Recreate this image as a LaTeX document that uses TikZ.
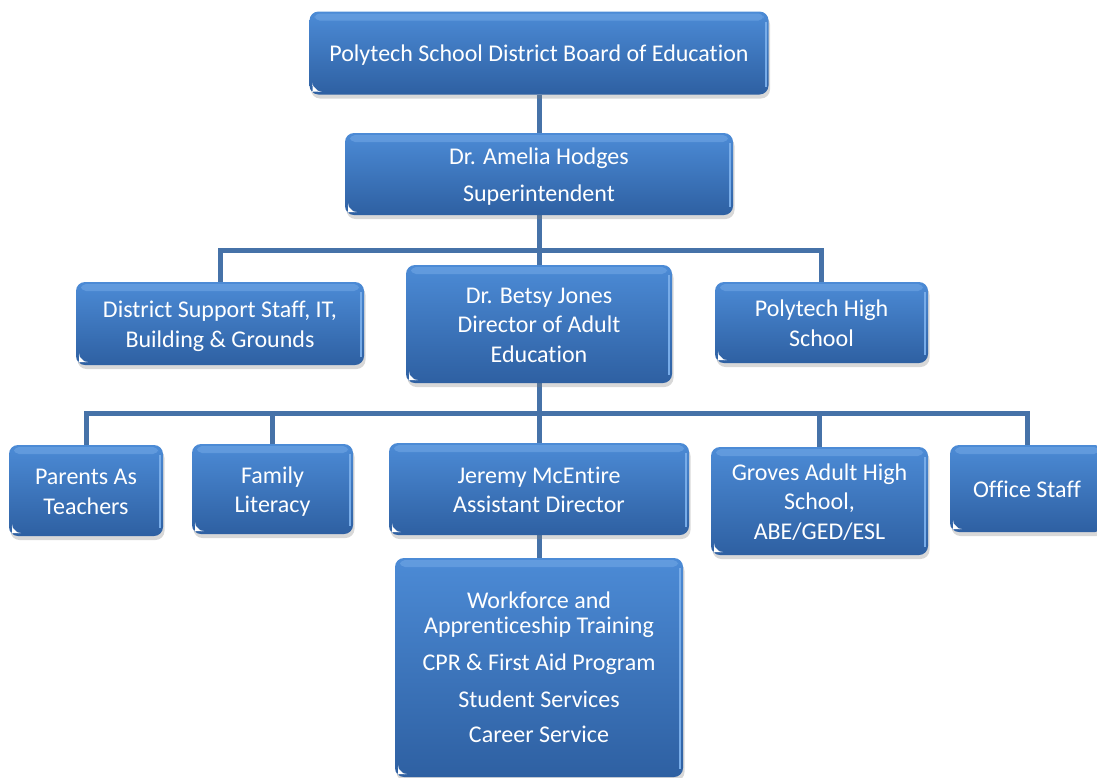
\documentclass[tikz,border=0pt]{standalone}
\usepackage{fontspec}
\setmainfont{Carlito}[Ligatures=NoCommon]
\usetikzlibrary{shadows,backgrounds}
\definecolor{boxtop}{RGB}{76,139,214}
\definecolor{boxbot}{RGB}{46,96,162}
\definecolor{hilite}{RGB}{120,172,232}
\definecolor{conncol}{RGB}{70,114,168}
\newcommand\bx[1]{\raisebox{-3pt}[\height][\depth]{\begin{tabular}{@{}c@{}}#1\end{tabular}}}
\tikzset{
 orgbox/.style={rounded corners=9pt, top color=boxtop, bottom color=boxbot,
  text=white, inner sep=0pt,
  font=\fontsize{24}{29.5}\selectfont,
  drop shadow={shadow xshift=1.5pt, shadow yshift=-4pt, opacity=0.3},
  path picture={
   \fill[hilite, opacity=0.5, rounded corners=5pt]
     ([xshift=5pt,yshift=-2pt]path picture bounding box.north west) rectangle
     ([xshift=-5pt,yshift=-9pt]path picture bounding box.north east);
   \draw[hilite, line width=2pt]
     ([xshift=-3pt,yshift=-10pt]path picture bounding box.north east) --
     ([xshift=-3pt,yshift=8pt]path picture bounding box.south east);
   \fill[white] ([xshift=3pt,yshift=3pt]path picture bounding box.south west)
     -- ++(6pt,0pt) -- ++(-6pt,6pt) -- cycle;
  }},
 conn/.style={draw=conncol, line width=5pt}
}
\begin{document}
\begin{tikzpicture}[x=1pt,y=-1pt]
\useasboundingbox (0,0) rectangle (1097,777);
\node[orgbox, minimum width=459pt, minimum height=83pt] (board) at (539,53) {\bx{Polytech School District Board of Education}};
\node[orgbox, minimum width=388pt, minimum height=82pt] (sup) at (539,174) {\bx{Dr. Amelia Hodges\\[7pt]Superintendent}};
\node[orgbox, minimum width=288pt, minimum height=83pt] (dist) at (220,323.5) {\bx{District Support Staff, IT,\\Building \& Grounds}};
\node[orgbox, minimum width=266pt, minimum height=118pt] (betsy) at (539,324) {\bx{Dr. Betsy Jones\\Director of Adult\\Education}};
\node[orgbox, minimum width=213pt, minimum height=81pt] (phs) at (821.5,322.5) {\bx{Polytech High\\School}};
\node[orgbox, minimum width=154pt, minimum height=91pt] (pat) at (86,490.5) {\bx{Parents As\\Teachers}};
\node[orgbox, minimum width=161pt, minimum height=90pt] (fam) at (272.5,489) {\bx{Family\\Literacy}};
\node[orgbox, minimum width=300pt, minimum height=92pt] (jer) at (539,489) {\bx{Jeremy McEntire\\Assistant Director}};
\node[orgbox, minimum width=217pt, minimum height=108pt] (grv) at (819.5,501) {\bx{Groves Adult High\\School,\\ABE/GED/ESL}};
\node[orgbox, minimum width=154pt, minimum height=87pt] (off) at (1027,488.5) {\bx{Office Staff}};
\node[orgbox, minimum width=288pt, minimum height=219pt, font=\fontsize{24}{25}\selectfont] (wf) at (539,667.5) {\bx{Workforce and\\Apprenticeship Training\\[12pt]CPR \& First Aid Program\\[12pt]Student Services\\[10pt]Career Service}};
\coordinate (b1) at (539,250);
\coordinate (b2) at (539,413);
\begin{scope}[on background layer]
\fill[white] (0,0) rectangle (1097,777);
\draw[conn] (board.south) -- (sup.north);
\draw[conn] (sup.south) -- (betsy.north);
\draw[conn] (dist.north) |- (b1) -| (phs.north);
\draw[conn] (betsy.south) -- (jer.north);
\draw[conn] (pat.north) |- (b2) -| (off.north);
\draw[conn] (fam.north) |- (b2);
\draw[conn] (grv.north) |- (b2);
\draw[conn] (jer.south) -- (wf.north);
\end{scope}
\end{tikzpicture}
\end{document}
